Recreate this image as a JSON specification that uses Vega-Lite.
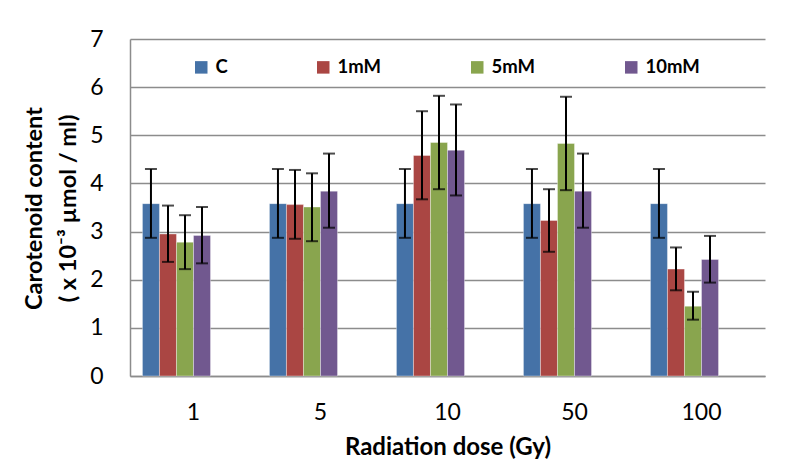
{
  "$schema": "https://vega.github.io/schema/vega-lite/v6.json",
  "width": 635,
  "height": 337,
  "autosize": {"type": "none"},
  "padding": {"left": 130, "top": 39, "right": 20, "bottom": 94},
  "background": "white",
  "config": {
    "view": {"stroke": null},
    "font": "Lato",
    "axis": {"labelFont": "Lato", "titleFont": "Lato"},
    "legend": {"labelFont": "Lato"}
  },
  "data": {
    "values": [
      {"dose": "1", "treatment": "C", "mean": 3.58, "low": 2.87, "high": 4.30},
      {"dose": "1", "treatment": "1mM", "mean": 2.95, "low": 2.37, "high": 3.54},
      {"dose": "1", "treatment": "5mM", "mean": 2.78, "low": 2.22, "high": 3.34},
      {"dose": "1", "treatment": "10mM", "mean": 2.92, "low": 2.34, "high": 3.51},
      {"dose": "5", "treatment": "C", "mean": 3.58, "low": 2.87, "high": 4.30},
      {"dose": "5", "treatment": "1mM", "mean": 3.56, "low": 2.85, "high": 4.28},
      {"dose": "5", "treatment": "5mM", "mean": 3.51, "low": 2.80, "high": 4.21},
      {"dose": "5", "treatment": "10mM", "mean": 3.84, "low": 3.08, "high": 4.62},
      {"dose": "10", "treatment": "C", "mean": 3.58, "low": 2.87, "high": 4.30},
      {"dose": "10", "treatment": "1mM", "mean": 4.58, "low": 3.67, "high": 5.50},
      {"dose": "10", "treatment": "5mM", "mean": 4.85, "low": 3.88, "high": 5.82},
      {"dose": "10", "treatment": "10mM", "mean": 4.69, "low": 3.75, "high": 5.64},
      {"dose": "50", "treatment": "C", "mean": 3.58, "low": 2.87, "high": 4.30},
      {"dose": "50", "treatment": "1mM", "mean": 3.23, "low": 2.58, "high": 3.88},
      {"dose": "50", "treatment": "5mM", "mean": 4.83, "low": 3.86, "high": 5.80},
      {"dose": "50", "treatment": "10mM", "mean": 3.84, "low": 3.08, "high": 4.62},
      {"dose": "100", "treatment": "C", "mean": 3.58, "low": 2.87, "high": 4.30},
      {"dose": "100", "treatment": "1mM", "mean": 2.22, "low": 1.78, "high": 2.67},
      {"dose": "100", "treatment": "5mM", "mean": 1.45, "low": 1.17, "high": 1.75},
      {"dose": "100", "treatment": "10mM", "mean": 2.42, "low": 1.94, "high": 2.91}
    ]
  },
  "encoding": {
    "x": {
      "field": "dose",
      "type": "nominal",
      "sort": ["1", "5", "10", "50", "100"],
      "scale": {"paddingInner": 0.196, "paddingOuter": 0.098},
      "axis": {
        "title": "Radiation dose (Gy)",
        "labelAngle": 0,
        "labelFontSize": 23,
        "labelColor": "#000000",
        "labelPadding": 25,
        "ticks": false,
        "tickSize": 0,
        "domainColor": "#8c8c8c",
        "domainWidth": 1.5,
        "titleFontSize": 24,
        "titleFontWeight": "bold",
        "titleColor": "#000000",
        "titlePadding": 11
      }
    },
    "xOffset": {
      "field": "treatment",
      "type": "nominal",
      "sort": ["C", "1mM", "5mM", "10mM"],
      "scale": {"paddingInner": 0, "paddingOuter": 1, "align": 0}
    }
  },
  "layer": [
    {
      "mark": {"type": "bar", "stroke": "#ffffff", "strokeWidth": 0.6, "strokeOpacity": 0.6},
      "encoding": {
        "y": {
          "field": "mean",
          "type": "quantitative",
          "scale": {"domain": [0, 7], "nice": false},
          "axis": {
            "values": [0, 1, 2, 3, 4, 5, 6, 7],
            "title": ["Carotenoid content", "( x 10⁻³ µmol / ml)"],
            "titleFontSize": 23.5,
            "titleFontWeight": "bold",
            "titleColor": "#000000",
            "titleLineHeight": 34,
            "titleBaseline": "alphabetic",
            "titleAngle": 270,
            "titleX": -89,
            "titleY": 169,
            "titleAlign": "center",
            "labelFontSize": 23,
            "labelColor": "#000000",
            "labelPadding": 27,
            "ticks": false,
            "tickSize": 0,
            "grid": true,
            "gridColor": "#8c8c8c",
            "gridWidth": 1.5,
            "domainColor": "#8c8c8c",
            "domainWidth": 1.5
          }
        },
        "color": {
          "field": "treatment",
          "type": "nominal",
          "sort": ["C", "1mM", "5mM", "10mM"],
          "scale": {
            "domain": ["C", "1mM", "5mM", "10mM"],
            "range": ["#4572A7", "#AA4643", "#89A54E", "#71588F"]
          },
          "legend": {
            "title": null,
            "orient": "none",
            "direction": "horizontal",
            "columns": 4,
            "legendX": 62,
            "legendY": 19,
            "padding": 0,
            "symbolType": "square",
            "symbolSize": 156,
            "symbolStrokeWidth": 0,
            "labelFontSize": 18.5,
            "labelFontWeight": "bold",
            "labelColor": "#000000",
            "labelOffset": 5,
            "columnPadding": 86
          }
        }
      }
    },
    {
      "mark": {"type": "rule", "color": "#000000", "strokeWidth": 2},
      "encoding": {
        "y": {"field": "low", "type": "quantitative"},
        "y2": {"field": "high"}
      }
    },
    {
      "mark": {"type": "tick", "color": "#000000", "thickness": 2, "size": 12},
      "encoding": {
        "y": {"field": "low", "type": "quantitative"}
      }
    },
    {
      "mark": {"type": "tick", "color": "#000000", "thickness": 2, "size": 12},
      "encoding": {
        "y": {"field": "high", "type": "quantitative"}
      }
    }
  ]
}
